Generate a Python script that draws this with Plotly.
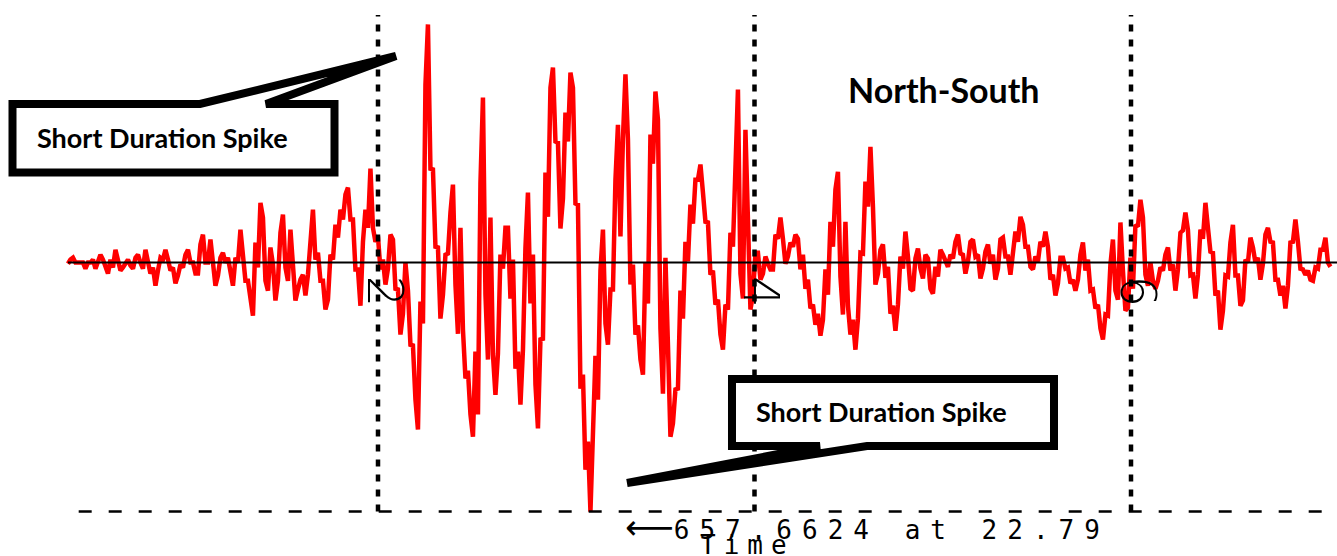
import numpy as np
import plotly.graph_objects as go

# North-South component: per-sample-bin envelope (upper / lower), one pair per bin
ns_upper = [8, 13, 0, 0, 0, 8, 21, 8, 8, 34, 0, 0, 8, 13, 21, 34, 0, -13, 13, 34,
            8, -13, -5, 21, 34, 0, 48, 74, 61, 0, 13, 26, 13, 13, 87, 8, -48, 53, 158, 119,
            40, -5, 79, 127, 87, -18, -45, -32, 79, 140, 26, -48, 21, 100, 140, 180, 198, 114, -18, 140,
            248, 92, 69, 8, 74, 61, -71, 0, -74, -219, -103, 470, 629, 246, 40, 21, 132, 206, 92, -177,
            -285, -235, 211, 436, 119, -243, 21, 92, 92, 8, -235, 40, 185, 21, -203, 238, 462, 515, 317, 396,
            502, 462, 153, -296, -473, -246, -21, 87, -71, 219, 364, 497, 325, -5, -166, 0, 338, 452, 378, 13,
            -217, -335, -74, 55, 153, 219, 259, 185, 106, -21, -98, -111, 79, 285, 457, 351, 153, 26, 26, 16,
            -3, 74, 119, 63, 53, 74, 63, 21, -45, -111, -135, -18, 108, 193, 240, 108, -114, -151, 26, 214,
            306, 148, 34, 48, -11, -114, 16, 82, 16, 11, 37, 21, 11, -11, 34, 21, 21, 55, 74, 21,
            55, 61, 21, 29, 48, 21, 61, 66, 16, 82, 121, 100, 42, 16, 55, 82, 42, -32, 13, 13,
            -13, -45, 21, 53, 8, -71, -111, -137, -5, 61, 106, -21, 13, 100, 166, 119, 0, -48, -13, 21,
            40, -5, 79, 132, 87, -32, 87, 158, 92, 26, -74, -34, 53, 100, -34, 8, 66, 40, 13, 74,
            92, 53, -45, -61, 53, 114, 55, -18, -21, -13, 34, 66, 0]
ns_lower = [-3, 0, 0, -16, 0, -16, 0, -13, -29, -13, -21, -13, -8, -16, 0, -16, -29, -61, -21, 8,
            -21, -55, -34, -13, 0, -29, -29, 0, 0, -61, -34, 0, -29, -61, 0, -48, -100, -140, -13, -48,
            -74, -100, -48, -13, -48, -100, -71, -87, -32, 8, -48, -124, -98, 8, 66, 114, 114, -18, -114, 55,
            92, 55, -18, -58, -16, -69, -190, -135, -217, -362, -441, -161, 248, 42, -148, -85, 24, -58, -188, -306,
            -401, -460, -401, -85, -256, -349, -240, -16, -95, -280, -375, -230, -108, -322, -438, -201, 121, 320, 90, 169,
            320, 156, -333, -547, -657.6624, -467, -362, -161, -217, -71, 69, 328, -58, -190, -256, -296, -108, 261, -174, -346,
            -460, -425, -333, -148, 3, 103, 219, 108, -32, -111, -190, -230, -124, 42, -29, -95, -124, -85, -45, -29,
            -18, -18, 63, -3, 16, 42, -18, -69, -121, -164, -193, -151, -85, 42, -37, -137, -190, -230, -148, 24,
            148, -58, -29, -40, -135, -180, -111, -16, -69, -74, -16, -42, -69, -82, -37, 3, -11, 11, 24, -29,
            3, 16, -42, -16, -3, -45, -16, 16, -32, 16, 55, 42, -11, -18, 3, 42, -45, -87, -55, -16,
            -55, -74, -45, -21, -74, -121, -174, -203, -140, -74, -98, -127, -119, -69, 95, -32, -61, -69, -48, -21,
            -21, -74, -18, 85, -34, -95, -32, 63, 29, -87, -177, -127, -37, -34, -114, -100, 0, 0, -45, -3,
            55, -45, -87, -121, -61, 55, -16, -32, -45, -48, -16, 34, -11]

# Sampling of the record (seconds)
T_START = 0.353
SAMPLE_DT = 0.01328
GRID_SECONDS = [2, 4, 6]
GRID_LABELS = ["2", "4", "6"]
PEAK_TIME_LABEL = 22.79

# Build the trace: each bin is traversed from the end nearest the previous sample
trace_vals = []
prev = 0.0
for hi, lo in zip(ns_upper, ns_lower):
    if abs(hi - prev) <= abs(lo - prev):
        trace_vals += [hi, lo]
        prev = lo
    else:
        trace_vals += [lo, hi]
        prev = hi
trace_vals = np.array(trace_vals, dtype=float)
t = T_START + SAMPLE_DT * np.arange(len(trace_vals))

peak_val = float(trace_vals.min())

W, H = 1337, 556
X_RANGE = [-0.008, 7.0943]
Y_RANGE = [-774.9, 693.6]

fig = go.Figure()
fig.add_trace(go.Scatter(
    x=t, y=trace_vals, mode="lines",
    line=dict(color="#ff0000", width=4.5),
    hoverinfo="skip", showlegend=False,
))

shapes = []
# zero line
shapes.append(dict(type="line", xref="x", yref="y", x0=t[0], x1=X_RANGE[1], y0=0, y1=0,
                   line=dict(color="black", width=2)))
# dashed line at the largest excursion
shapes.append(dict(type="line", xref="x", yref="y", x0=0.41, x1=X_RANGE[1], y0=peak_val, y1=peak_val,
                   line=dict(color="black", width=2.5, dash="13px,17px")))
# dotted second markers
for s in GRID_SECONDS:
    shapes.append(dict(type="line", xref="x", yref="y", x0=s, x1=s, y0=peak_val, y1=654,
                       line=dict(color="black", width=4.5, dash="7px,8px")))


def px_path(points):
    parts = []
    for i, (px, py) in enumerate(points):
        parts.append(("M" if i == 0 else "L") + f"{px / W:.5f},{1 - py / H:.5f}")
    return " ".join(parts) + " Z"


callout_1 = [(12.5, 104), (200, 104), (396, 56), (266, 104), (334.5, 104), (334.5, 172.5), (12.5, 172.5)]
callout_2 = [(732, 379), (1054, 379), (1054, 446), (867, 446), (627, 483), (820, 446), (732, 446)]
for pts in (callout_1, callout_2):
    shapes.append(dict(type="path", xref="paper", yref="paper", path=px_path(pts),
                       fillcolor="white", line=dict(color="black", width=8)))


def note(px, py, text, font, **kw):
    return dict(x=px / W, y=1 - py / H, xref="paper", yref="paper", text=text,
                showarrow=False, xanchor="center", yanchor="middle", font=font, **kw)


annotations = []
for s, lab in zip(GRID_SECONDS, GRID_LABELS):
    annotations.append(dict(x=s, y=0, xref="x", yref="y", text=lab, showarrow=False,
                            xanchor="center", yanchor="middle",
                            textangle=90, yshift=-29, xshift=7,
                            font=dict(family="DejaVu Sans", size=50, color="black", weight=200)))

callout_font = dict(family="Lato", size=27, color="black", weight=700)
annotations.append(note(162.5, 137, "Short Duration Spike", callout_font))
annotations.append(note(881, 412, "Short Duration Spike", callout_font))
annotations.append(note(944, 89, "North-South",
                        dict(family="Lato", size=34, color="black", weight=700)))

mono = dict(family="DejaVu Sans Mono", size=26, color="black")
annotations.append(note(
    867, 527,
    '<span style="font-family:\'DejaVu Sans\';font-size:34px">\u27f5</span>'
    f'<span style="letter-spacing:10px">{abs(peak_val):.4f} at {PEAK_TIME_LABEL:.2f}</span>',
    mono))
annotations.append(note(747, 545, '<span style="letter-spacing:8px">Time</span>', mono))

fig.update_layout(
    width=W, height=H,
    margin=dict(l=0, r=0, t=0, b=0),
    paper_bgcolor="white", plot_bgcolor="white",
    xaxis=dict(visible=False, range=X_RANGE, fixedrange=True),
    yaxis=dict(visible=False, range=Y_RANGE, fixedrange=True),
    shapes=shapes,
    annotations=annotations,
)

fig.write_html("out.html")
